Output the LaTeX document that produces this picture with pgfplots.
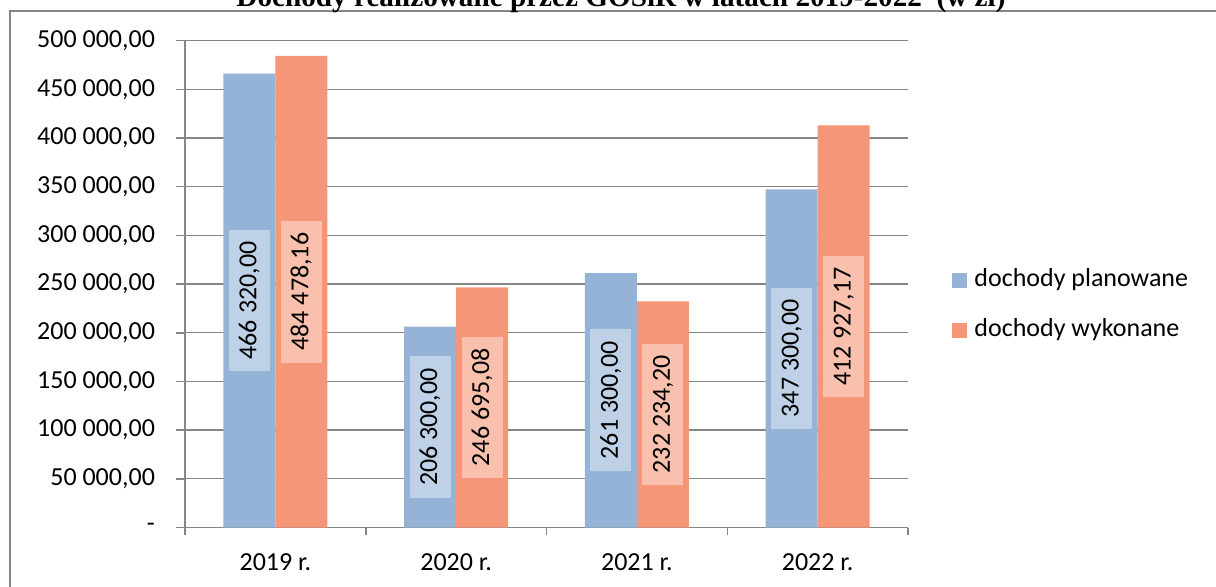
\documentclass[border=0pt]{standalone}
\usepackage{pgfplots}
\pgfplotsset{compat=1.18}
\usepackage{fontspec}
\setmainfont{Carlito}
\newfontfamily\titlefont{Liberation Serif}
\definecolor{bblue}{RGB}{149,179,215}
\definecolor{borange}{RGB}{246,150,121}
\definecolor{ggray}{RGB}{134,134,134}
\begin{document}
\begin{tikzpicture}
\useasboundingbox (0,0) rectangle (608pt,-293.5pt);
\draw[ggray, line width=1pt] (4.75pt,-293.5pt) -- (4.75pt,-5.5pt) -- (608pt,-5.5pt);
\node[anchor=base, font=\titlefont\bfseries\fontsize{14.6}{17}\selectfont, inner sep=0pt] at (310.5pt,-3.25pt) {Dochody realizowane przez GOSiR w latach 2019-2022\ \ (w zł)};
\begin{axis}[
  at={(92.5pt,-263.75pt)}, anchor=south west,
  scale only axis, width=361.5pt, height=243.4pt,
  ybar=0pt, bar width=26pt,
  xmin=-0.5, xmax=3.5, ymin=0, ymax=500000,
  scaled y ticks=false,
  axis x line*=bottom, axis y line*=left,
  axis line style={ggray, line width=0.75pt},
  tick align=outside,
  major tick length=4.5pt, minor tick length=3.75pt,
  tick style={ggray, line width=0.75pt},
  xtick={0,1,2,3},
  xticklabels={2019 r., 2020 r., 2021 r., 2022 r.},
  major x tick style={draw=none},
  minor xtick={-0.5,0.5,1.5,2.5,3.5},
  ytick={0,50000,100000,150000,200000,250000,300000,350000,400000,450000,500000},
  yticklabels={{-\hspace{10.5pt}},{50 000,00},{100 000,00},{150 000,00},{200 000,00},{250 000,00},{300 000,00},{350 000,00},{400 000,00},{450 000,00},{500 000,00}},
  ymajorgrids,
  grid style={ggray, line width=0.65pt},
  tick label style={font=\fontsize{13}{15.6}\selectfont},
  yticklabel style={xshift=-7pt},
  xticklabel style={yshift=-5pt},
  clip=false,
  legend style={at={(1,0.5)}, anchor=west, xshift=21.85pt, yshift=-10.5pt,
    draw=none, fill=none, inner sep=0pt, row sep=13pt,
    font=\fontsize{13}{15.6}\selectfont,
    nodes={inner sep=0pt, text height=9pt, text depth=3pt},
    /tikz/every odd column/.style={column sep=3.65pt}},
  legend cell align=left,
  legend image code/.code={\fill[#1] (0pt,-3.75pt) rectangle (7.5pt,3.75pt);},
  nodes near coords,
  point meta=explicit symbolic,
  visualization depends on={y/2 \as \halfy},
  every node near coord/.append style={shift={(axis direction cs:0,-\halfy)}, rotate=90, anchor=center,
    fill=white, fill opacity=0.4, text opacity=1, text=black,
    font=\fontsize{13}{15.6}\selectfont, inner xsep=6pt, inner ysep=5.25pt, text height=8.5pt, text depth=1.5pt},
]
\addplot[fill=bblue, draw=none] coordinates {
  (0,466320) [{466 320,00}]
  (1,206300) [{206 300,00}]
  (2,261300) [{261 300,00}]
  (3,347300) [{347 300,00}]
};
\addplot[fill=borange, draw=none] coordinates {
  (0,484478.16) [{484 478,16}]
  (1,246695.08) [{246 695,08}]
  (2,232234.20) [{232 234,20}]
  (3,412927.17) [{412 927,17}]
};
\legend{dochody planowane, dochody wykonane}
\end{axis}
\end{tikzpicture}
\end{document}
